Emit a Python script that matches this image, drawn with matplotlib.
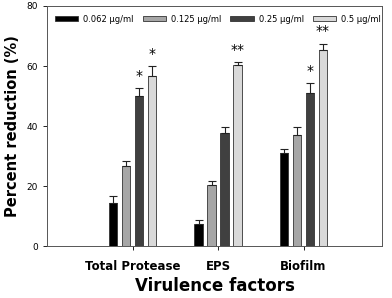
import matplotlib.pyplot as plt
import numpy as np

categories = ["Total Protease", "EPS", "Biofilm"]
series = ["0.062 \u03bcg/ml", "0.125 \u03bcg/ml", "0.25 \u03bcg/ml", "0.5 \u03bcg/ml"]
values = [
    [14.5, 7.5, 31.0],
    [26.7, 20.3, 37.0],
    [50.0, 37.7, 51.0],
    [56.8, 60.3, 65.2],
]
errors = [
    [2.2, 1.3, 1.5],
    [1.8, 1.5, 2.8],
    [2.7, 2.0, 3.3],
    [3.2, 1.0, 2.2],
]
stars = [
    ["", "", ""],
    ["", "", ""],
    ["*", "", "*"],
    ["*", "**", "**"],
]
colors = ["#000000", "#a6a6a6", "#404040", "#d9d9d9"]

fig = plt.figure(figsize=(3.92, 2.98), dpi=100)
ax = fig.add_axes([0.12, 0.174, 0.855, 0.806])

x = np.arange(1, len(categories) + 1)
step = 0.152
width = 0.095
for i in range(len(series)):
    pos = x + (i - 1.5) * step
    ax.bar(pos, values[i], width, color=colors[i], edgecolor="#333333",
           linewidth=0.6, label=series[i])
    ax.errorbar(pos, values[i], yerr=[np.zeros(3), errors[i]], fmt="none",
                ecolor="#222222", elinewidth=0.8, capsize=3, capthick=0.8)
    for p, v, e, s in zip(pos, values[i], errors[i], stars[i]):
        if s:
            ax.text(p, v + e + 1.8, s, ha="center", va="bottom", fontsize=10)

ax.set_xlim(0, 3.92)
ax.set_ylim(0, 80)
ax.set_yticks([0, 20, 40, 60, 80])
ax.set_xticks(x)
ax.set_xticklabels(categories, fontweight="bold", fontsize=8.5)
ax.tick_params(axis="y", labelsize=6.5, length=3, width=0.6)
ax.tick_params(axis="x", length=3, width=0.6, pad=7)
for sp in ax.spines.values():
    sp.set_linewidth(0.7)
    sp.set_color("#555555")

ax.set_ylabel("Percent reduction (%)", fontweight="bold", fontsize=10.5, labelpad=5)
ax.set_xlabel("Virulence factors", fontweight="bold", fontsize=12, labelpad=3)

ax.legend(loc="upper center", ncol=4, frameon=False, fontsize=6,
          handlelength=2.8, handleheight=0.6, columnspacing=1.1,
          handletextpad=0.6, bbox_to_anchor=(0.51, 0.995))

fig.savefig("out.png", dpi=100)
